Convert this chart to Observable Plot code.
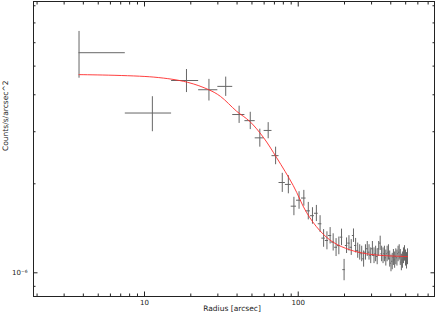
<!DOCTYPE html>
<html>
<head>
<meta charset="utf-8">
<script src="https://cdn.jsdelivr.net/npm/d3@7"></script>
<script src="https://cdn.jsdelivr.net/npm/@observablehq/plot@0.6"></script>
<style>
  html, body { margin: 0; padding: 0; background: #fff; }
  svg { display: block; }
</style>
</head>
<body>
<div id="chart"></div>
<script>
// ---- data (units: counts/s/arcsec^2 in 1e-6) ----
const unit = 1e-6;
const radius = [3.75, 11.25, 18.75, 26.25, 33.75, 41.25, 48.75, 56.25, 63.75, 71.25,
  78.75, 86.25, 93.75, 101.25, 108.75, 116.25, 123.75, 131.25, 138.75, 146.25,
  153.75, 161.25, 168.75, 176.25, 183.75, 191.25, 198.75, 206.25, 213.75, 221.25,
  228.75, 236.25, 243.75, 251.25, 258.75, 266.25, 273.75, 281.25, 288.75, 296.25,
  303.75, 311.25, 318.75, 326.25, 333.75, 341.25, 348.75, 356.25, 363.75, 371.25,
  378.75, 386.25, 393.75, 401.25, 408.75, 416.25, 423.75, 431.25, 438.75, 446.25,
  453.75, 461.25, 468.75, 476.25, 483.75, 491.25, 498.75, 506.25, 513.75];
const binHalfWidth = 3.75;
const counts = [5.55, 3.47, 4.47, 4.16, 4.27, 3.43, 3.27, 2.86, 3.03, 2.49,
  2.02, 1.99, 1.68, 1.76, 1.79, 1.62, 1.56, 1.59, 1.465, 1.31,
  1.286, 1.337, 1.27, 1.22, 1.236, 1.32, 1.025, 1.237, 1.26, 1.22,
  1.337, 1.237, 1.19, 1.174, 1.16, 1.115, 1.174, 1.206, 1.174, 1.144,
  1.206, 1.144, 1.16, 1.135, 1.206, 1.26, 1.16, 1.144, 1.16, 1.124,
  1.16, 1.174, 1.115, 1.078, 1.094, 1.129, 1.106, 1.135, 1.124, 1.16,
  1.174, 1.129, 1.086, 1.106, 1.144, 1.165, 1.124, 1.10, 1.135];
const countErr = [1.0, 0.47, 0.4, 0.35, 0.32, 0.23, 0.22, 0.2, 0.19, 0.17,
  0.15, 0.14, 0.12, 0.12, 0.11, 0.11, 0.1, 0.1, 0.095, 0.09,
  0.09, 0.085, 0.085, 0.085, 0.085, 0.085, 0.085, 0.075, 0.075, 0.075,
  0.07, 0.07, 0.07, 0.07, 0.07, 0.07, 0.07, 0.07, 0.07, 0.07,
  0.07, 0.07, 0.07, 0.07, 0.07, 0.07, 0.07, 0.07, 0.07, 0.07,
  0.07, 0.07, 0.07, 0.07, 0.07, 0.07, 0.07, 0.07, 0.07, 0.07,
  0.07, 0.07, 0.07, 0.07, 0.07, 0.07, 0.07, 0.07, 0.07];

// model curve
const modelR = [3.75, 11.5, 19, 26.2, 31.2, 39.7, 48.4, 59.2, 72.4, 92.8, 113, 138, 168.6, 216.6, 278, 357, 513.75];
const modelY = [4.68, 4.59, 4.41, 4.16, 3.95, 3.52, 3.25, 2.875, 2.45, 1.973, 1.603, 1.39, 1.269, 1.196, 1.16, 1.144, 1.135];

// axis ticks
const xMajor = [10, 100];
const xMinor = [2, 3, 4, 5, 6, 7, 8, 9, 20, 30, 40, 50, 60, 70, 80, 90, 200, 300, 400, 500, 600, 700];
const yMajor = [1];
const yMinor = [0.9, 2, 3, 4, 5, 6, 7, 8];
const yMajorLabel = ["10\u207B\u2076"];
const xTitle = "Radius [arcsec]";
const yTitle = "Counts/s/arcsec^2";

// ---- build tables ----
const points = radius.map((r, i) => ({
  r,
  rlo: r - binHalfWidth > 0 ? r - binHalfWidth : r,
  rhi: r + binHalfWidth,
  c: counts[i] * unit,
  lo: (counts[i] - countErr[i]) * unit,
  hi: (counts[i] + countErr[i]) * unit
}));
const model = modelR.map((r, i) => ({r, y: modelY[i] * unit}));

const ink = "#222";
const chart = Plot.plot({
  width: 436,
  height: 315,
  marginLeft: 33,
  marginRight: 2,
  marginTop: 1,
  marginBottom: 19,
  x: {type: "log", domain: [1.896, 770]},
  y: {type: "log", domain: [0.8315e-6, 8.27e-6]},
  style: {fontFamily: "DejaVu Sans", fontSize: "7px", color: ink, background: "#fff"},
  marks: [
    // error bars
    Plot.ruleX(points, {x: "r", y1: "lo", y2: "hi", stroke: "#666", strokeWidth: 1}),
    Plot.ruleY(points, {y: "c", x1: "rlo", x2: "rhi", stroke: "#666", strokeWidth: 1}),
    // model
    Plot.line(model, {x: "r", y: "y", stroke: "#ff2a2a", strokeWidth: 0.9, curve: "catmull-rom"}),
    // frame
    Plot.frame({stroke: ink}),
    // inward ticks, all four sides
    Plot.axisX(xMinor, {anchor: "bottom", tickSize: -2.5, tickFormat: () => "", label: null, stroke: ink}),
    Plot.axisX(xMajor, {anchor: "bottom", tickSize: -4.5, tickFormat: () => "", label: null, stroke: ink}),
    Plot.axisX(xMinor, {anchor: "top", tickSize: -2.5, tickFormat: () => "", label: null, stroke: ink}),
    Plot.axisX(xMajor, {anchor: "top", tickSize: -4.5, tickFormat: () => "", label: null, stroke: ink}),
    Plot.axisY(yMinor.map(v => v * unit), {anchor: "left", tickSize: -2.5, tickFormat: () => "", label: null, stroke: ink}),
    Plot.axisY(yMajor.map(v => v * unit), {anchor: "left", tickSize: -4.5, tickFormat: () => "", label: null, stroke: ink}),
    Plot.axisY(yMinor.map(v => v * unit), {anchor: "right", tickSize: -2.5, tickFormat: () => "", label: null, stroke: ink}),
    Plot.axisY(yMajor.map(v => v * unit), {anchor: "right", tickSize: -4.5, tickFormat: () => "", label: null, stroke: ink}),
    // tick labels
    Plot.axisX(xMajor, {anchor: "bottom", tickSize: 0, tickPadding: 4, tickFormat: d => String(d), label: null, fill: ink}),
    Plot.axisY(yMajor.map(v => v * unit), {anchor: "left", tickSize: 0, tickPadding: 6, tickFormat: () => yMajorLabel[0], label: null, fill: ink}),
    // titles
    Plot.text([xTitle], {frameAnchor: "bottom", dy: 12, text: d => d, fill: ink, lineAnchor: "middle", fontSize: 7.5, dx: -2}),
    Plot.text([yTitle], {frameAnchor: "left", dx: -28, dy: 2, rotate: -90, text: d => d, fill: ink, lineAnchor: "middle", fontSize: 7.5})
  ]
});
document.getElementById("chart").appendChild(chart);
</script>
</body>
</html>
